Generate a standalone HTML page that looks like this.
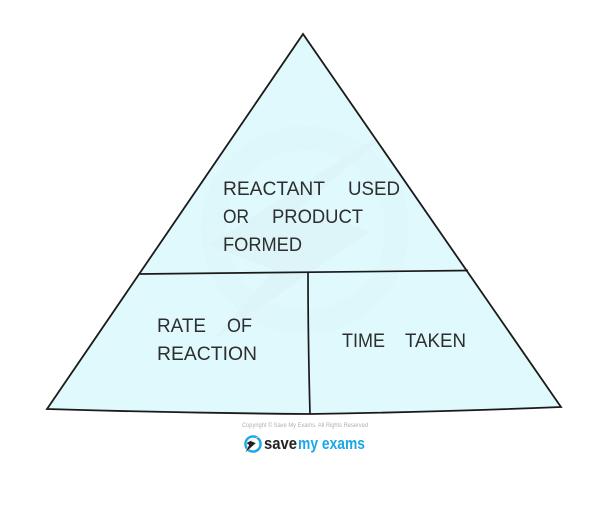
<!DOCTYPE html>
<html><head><meta charset="utf-8"><style>
html,body{margin:0;padding:0;background:#fff}
svg{display:block}
.t{font-family:"Liberation Sans",sans-serif;font-size:19px;fill:#2e2e2e}
</style></head><body>
<svg width="612" height="505" viewBox="0 0 612 505" xmlns="http://www.w3.org/2000/svg">
<defs><clipPath id="c"><path d="M303 34 L47 409 Q180 413 310 414 Q440 412 561 407 Z"/></clipPath></defs>
<rect width="612" height="505" fill="#fff"/>
<path d="M303 34 L47 409 Q180 413 310 414 Q440 412 561 407 Z" fill="#dff9fc"/>
<g clip-path="url(#c)">
<circle cx="305" cy="230" r="104" fill="#def7fb"/>
<circle cx="305" cy="230" r="80" fill="#dff9fc"/>
<path d="M402 121 L300 208 L370 231 L212 341 L274 270 L208 245 Z" fill="#ddf5f8"/>
</g>
<path d="M303 34 L47 409 Q180 413 310 414 Q440 412 561 407 Z" fill="none" stroke="#1a1a1a" stroke-width="1.8"/>
<path d="M140 274 Q300 273 468 270.5" fill="none" stroke="#1a1a1a" stroke-width="1.7"/>
<path d="M308 273 Q308 340 310 414" fill="none" stroke="#1a1a1a" stroke-width="1.7"/>
<text class="t" x="223" y="195" textLength="102" lengthAdjust="spacingAndGlyphs">REACTANT</text>
<text class="t" x="348" y="195" textLength="52" lengthAdjust="spacingAndGlyphs">USED</text>
<text class="t" x="223" y="223" textLength="26" lengthAdjust="spacingAndGlyphs">OR</text>
<text class="t" x="272" y="223" textLength="91" lengthAdjust="spacingAndGlyphs">PRODUCT</text>
<text class="t" x="223" y="251" textLength="79" lengthAdjust="spacingAndGlyphs">FORMED</text>
<text class="t" x="157" y="332" textLength="49" lengthAdjust="spacingAndGlyphs">RATE</text>
<text class="t" x="227" y="332" textLength="25" lengthAdjust="spacingAndGlyphs">OF</text>
<text class="t" x="157" y="360" textLength="100" lengthAdjust="spacingAndGlyphs">REACTION</text>
<text class="t" x="342" y="347" textLength="43" lengthAdjust="spacingAndGlyphs">TIME</text>
<text class="t" x="405" y="347" textLength="61" lengthAdjust="spacingAndGlyphs">TAKEN</text>
<text x="242" y="427" textLength="126" lengthAdjust="spacingAndGlyphs" font-family="Liberation Sans, sans-serif" font-size="6.4" fill="#b0b0b0">Copyright © Save My Exams. All Rights Reserved</text>
<circle cx="253" cy="444" r="7.6" fill="none" stroke="#1aa7e8" stroke-width="2.4"/>
<path d="M262 435 L251 441 L256 443 L245 453 L249 445 L246 443 Z" fill="#222" stroke="#fff" stroke-width=".4"/>
<text x="264" y="449" textLength="33" lengthAdjust="spacingAndGlyphs" font-family="Liberation Sans, sans-serif" font-size="17" font-weight="bold" fill="#222">save</text>
<text x="298" y="449" textLength="67" lengthAdjust="spacingAndGlyphs" font-family="Liberation Sans, sans-serif" font-size="17" font-weight="bold" fill="#1aa7e8">my exams</text>
</svg>
</body></html>
